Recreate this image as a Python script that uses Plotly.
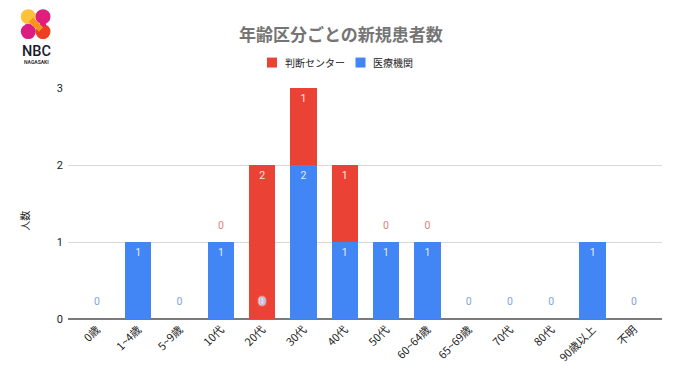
import plotly.graph_objects as go

categories = ["0歳", "1~4歳", "5~9歳", "10代", "20代", "30代", "40代", "50代",
              "60~64歳", "65~69歳", "70代", "80代", "90歳以上", "不明"]
iryo = [0, 1, 0, 1, 0, 2, 1, 1, 1, 0, 0, 0, 1, 0]
handan = [None, None, None, 0, 2, 1, 1, 0, 0, None, None, None, None, None]
series_names = ["判断センター", "医療機関"]

RED = "#ea4335"
BLUE = "#4285f4"
FONT = "'Noto Sans CJK JP', 'Noto Sans', Roboto, sans-serif"

# The page places the figure 8px from the top-left corner of the window.
PAGE = 8
W, H = 680 - PAGE, 382 - PAGE
L, R, T, B = 68 - PAGE, 18, 87.5 - PAGE, 63
PW, PH = W - L - R, H - T - B
UNIT = PH / 3
INSIDE = 11 / UNIT
ZERO_BLUE = 16.5 / UNIT
ZERO_RED = 16 / UNIT

red_vals = [v or 0 for v in handan]

fig = go.Figure()
fig.add_bar(x=categories, y=iryo, name=series_names[1], marker=dict(color=BLUE, line_width=0))
fig.add_bar(x=categories, y=red_vals, name=series_names[0], marker=dict(color=RED, line_width=0))

bx, by, bt, bc = [], [], [], []
hx = []
for c, v, r in zip(categories, iryo, red_vals):
    if v == 0 and r > 0:
        hx.append(c)      # zero label that falls on a red bar: drawn with a halo
        continue
    bx.append(c)
    bt.append(str(v))
    if v > 0:
        by.append(v - INSIDE)
        bc.append("#e3ecfb")
    else:
        by.append(ZERO_BLUE)
        bc.append("#7fa3dc")

rx, ry, rt, rc = [], [], [], []
for c, b, v in zip(categories, iryo, handan):
    if v is None:
        continue
    rx.append(c)
    rt.append(str(v))
    if v > 0:
        ry.append(b + v - INSIDE)
        rc.append("#fbe4e1")
    else:
        ry.append(b + ZERO_RED)
        rc.append("#dc8378")

fig.add_scatter(x=hx, y=[ZERO_BLUE] * len(hx), mode="text", text=["0"] * len(hx),
                textfont=dict(size=11.5, color="#a9c3ee", family="Roboto", weight="bold",
                              shadow="0 0 2px #ffffff, 0 0 2px #ffffff, 0 0 2px #ffffff"),
                showlegend=False, hoverinfo="skip")
fig.add_scatter(x=bx, y=by, mode="text", text=bt, textfont=dict(size=10.5, color=bc, family="Roboto"),
                showlegend=False, hoverinfo="skip")
fig.add_scatter(x=rx, y=ry, mode="text", text=rt, textfont=dict(size=10.5, color=rc, family="Roboto"),
                showlegend=False, hoverinfo="skip")


def fx(x):
    return (x - PAGE - L) / PW


def fy(y):
    return (H - B - (y - PAGE)) / PH


def box(kind, x0, y0, x1, y1, col):
    return dict(type=kind, xref="paper", yref="paper", layer="above",
                x0=fx(x0), x1=fx(x1), y0=fy(y1), y1=fy(y0), fillcolor=col, line_width=0)


def bar_line(x0, y0, x1, y1, col, w):
    return dict(type="line", xref="paper", yref="paper", layer="above",
                x0=fx(x0), x1=fx(x1), y0=fy(y0), y1=fy(y1), line=dict(color=col, width=w))


shapes = []
# Logo (decoration)
logo = [(28.3, 16, "#fcc23a"), (43, 16, "#e01f7c"),
        (28.3, 31, "#dc1c80"), (43, 31, "#ee3f24")]
for cx, cy, col in logo:
    shapes.append(box("circle", cx - 7.5, cy - 7.5, cx + 7.5, cy + 7.5, col))
shapes.append(bar_line(28.3, 23.5, 28.3, 27, "#dc1c80", 6))
shapes.append(bar_line(43, 20, 43, 26, "#e01f7c", 6))
shapes.append(bar_line(31, 19, 41, 29, "#f7941d", 6))

# Hand-placed legend to match the tight swatch and text spacing
shapes.append(box("rect", 267, 57, 277, 67, RED))
shapes.append(box("rect", 355.5, 57, 365.5, 67, BLUE))

annotations = [
    dict(text="NBC", x=36.5, y=50.5, font=dict(size=14.5, color="#1a1a2a", family="Roboto", weight=500)),
    dict(text="<b>NAGASAKI</b>", x=36.5, y=61.8, font=dict(size=5, color="#333333", family="Roboto")),
    dict(text="年齢区分ごとの新規患者数", x=341, y=33,
         font=dict(size=17, color="#757575", family=FONT, weight="bold")),
    dict(text="人数", x=24.5, y=221, textangle=-90, font=dict(size=10, color="#222222", family=FONT)),
    dict(text=series_names[0], x=284, y=62, xanchor="left", font=dict(size=10, color="#222222", family=FONT)),
    dict(text=series_names[1], x=372, y=62, xanchor="left", font=dict(size=10, color="#222222", family=FONT)),
]
anns = []
for a in annotations:
    x, y = a.pop("x"), a.pop("y")
    a.setdefault("xanchor", "center")
    anns.append(dict(xref="paper", yref="paper", x=fx(x), y=fy(y), borderpad=0,
                     showarrow=False, yanchor="middle", **a))

fig.update_layout(
    width=W, height=H, barmode="stack", bargap=0.36, showlegend=False,
    margin=dict(l=L, r=R, t=T, b=B, autoexpand=False),
    paper_bgcolor="white", plot_bgcolor="white",
    font=dict(family=FONT, color="#222222", size=10),
    xaxis=dict(type="category", categoryorder="array", categoryarray=categories,
               range=[-0.7, 13.68], tickangle=-45, showgrid=False, ticks="",
               showline=False, zeroline=False, ticklabelstandoff=1,
               tickfont=dict(size=11, color="#222222", family=FONT)),
    yaxis=dict(range=[0, 3], tickvals=[0, 1, 2, 3], showgrid=True, gridcolor="#d9d9d9", gridwidth=1,
               zeroline=True, zerolinecolor="#7a7a7a", zerolinewidth=1.5, showline=False, ticks="",
               ticklabelstandoff=4, tickfont=dict(size=11, color="#222222", family="Roboto")),
    shapes=shapes, annotations=anns,
)
fig.write_html("out.html")
